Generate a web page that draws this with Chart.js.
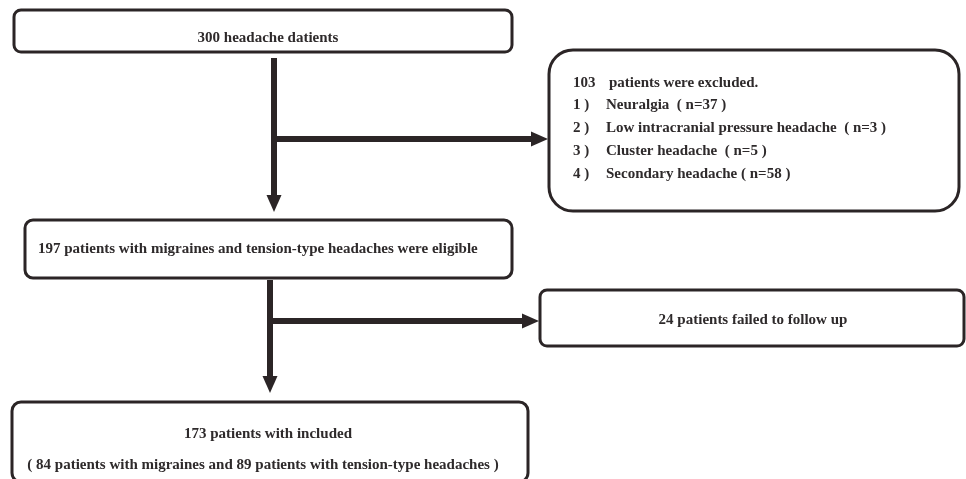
<!DOCTYPE html>
<html>
<head>
<meta charset="utf-8">
<script src="https://cdn.jsdelivr.net/npm/chart.js@4.4.0/dist/chart.umd.min.js"></script>
<style>
  html, body { margin: 0; padding: 0; background: #fff; }
  #wrap { width: 966px; height: 479px; position: relative; }
</style>
</head>
<body>
<div id="wrap"><canvas id="flow"></canvas></div>
<script>
// counts
const totalPatients = 300;
const excludedReasons = ['Neuralgia', 'Low intracranial pressure headache', 'Cluster headache', 'Secondary headache'];
const excludedCounts = [37, 3, 5, 58];
const eligiblePatients = 197;
const lostToFollowUp = 24;
const includedPatients = 173;
const groupNames = ['migraines', 'tension-type headaches'];
const groupCounts = [84, 89];

const excludedTotal = excludedCounts.reduce((a, b) => a + b, 0);

// layout in scale units (scales span the canvas 0..966 x 0..479)
const boxes = [
	{x0: 14, y0: 10, x1: 512, y1: 52, r: 7},
	{x0: 549, y0: 50, x1: 959, y1: 211, r: 24},
	{x0: 25, y0: 220, x1: 512, y1: 278, r: 8},
	{x0: 540, y0: 290, x1: 964, y1: 346, r: 7},
	{x0: 12, y0: 402, x1: 528, y1: 482, r: 9}
];
const arrows = [
	{from: [274, 58], to: [274, 212]},
	{from: [271, 139], to: [548, 139]},
	{from: [270, 280], to: [270, 393]},
	{from: [267, 321], to: [539, 321]}
];

const ink = '#2b2526';
const textInk = '#2e2a2b';
const font = 'bold 15px "Liberation Serif", "DejaVu Serif", serif';

function buildTexts() {
	const t = [];
	t.push({x: 268, y: 38, align: 'center', s: `${totalPatients} headache datients`});
	t.push({x: 573, y: 83, align: 'left', s: `${excludedTotal}`});
	t.push({x: 609, y: 83, align: 'left', s: 'patients were excluded.'});
	excludedReasons.forEach((name, i) => {
		const y = 105 + i * 23;
		t.push({x: 573, y, align: 'left', s: `${i + 1} )`});
		const gap = i === excludedReasons.length - 1 ? ' ' : '  ';
		t.push({x: 606, y, align: 'left', s: `${name}${gap}( n=${excludedCounts[i]} )`});
	});
	t.push({x: 38, y: 249, align: 'left', s: `${eligiblePatients} patients with migraines and tension-type headaches were eligible`});
	t.push({x: 753, y: 320, align: 'center', s: `${lostToFollowUp} patients failed to follow up`});
	t.push({x: 268, y: 434, align: 'center', s: `${includedPatients} patients with included`});
	t.push({x: 263, y: 465, align: 'center',
		s: `( ${groupCounts[0]} patients with ${groupNames[0]} and ${groupCounts[1]} patients with ${groupNames[1]} )`});
	return t;
}

const flowPlugin = {
	id: 'flow',
	afterDraw(chart) {
		const {ctx, scales: {x, y}} = chart;
		const px = v => x.getPixelForValue(v);
		const py = v => y.getPixelForValue(v);
		ctx.save();

		// boxes
		ctx.strokeStyle = ink;
		ctx.lineWidth = 3;
		boxes.forEach(b => {
			ctx.beginPath();
			ctx.roundRect(px(b.x0), py(b.y0), px(b.x1) - px(b.x0), py(b.y1) - py(b.y0), b.r);
			ctx.stroke();
		});

		// arrows
		ctx.fillStyle = ink;
		arrows.forEach(a => {
			const x0 = px(a.from[0]), y0 = py(a.from[1]);
			const x1 = px(a.to[0]), y1 = py(a.to[1]);
			const len = Math.hypot(x1 - x0, y1 - y0);
			const ux = (x1 - x0) / len, uy = (y1 - y0) / len;
			const head = 17, half = 7.5;
			ctx.lineWidth = 6;
			ctx.beginPath();
			ctx.moveTo(x0, y0);
			ctx.lineTo(x1 - ux * (head - 1), y1 - uy * (head - 1));
			ctx.stroke();
			const bx = x1 - ux * head, by = y1 - uy * head;
			ctx.beginPath();
			ctx.moveTo(x1, y1);
			ctx.lineTo(bx - uy * half, by + ux * half);
			ctx.lineTo(bx + uy * half, by - ux * half);
			ctx.closePath();
			ctx.fill();
		});

		// texts
		ctx.fillStyle = textInk;
		ctx.font = font;
		ctx.textBaseline = 'middle';
		buildTexts().forEach(t => {
			ctx.textAlign = t.align;
			ctx.fillText(t.s, px(t.x), py(t.y));
		});
		ctx.restore();
	}
};

new Chart(document.getElementById('flow'), {
	type: 'scatter',
	data: {datasets: [{data: [], pointRadius: 0}]},
	options: {
		responsive: true,
		maintainAspectRatio: false,
		animation: false,
		events: [],
		layout: {padding: 0},
		plugins: {legend: {display: false}, tooltip: {enabled: false}},
		scales: {
			x: {type: 'linear', min: 0, max: 966, display: false},
			y: {type: 'linear', min: 0, max: 479, reverse: true, display: false}
		}
	},
	plugins: [flowPlugin]
});
</script>
</body>
</html>
